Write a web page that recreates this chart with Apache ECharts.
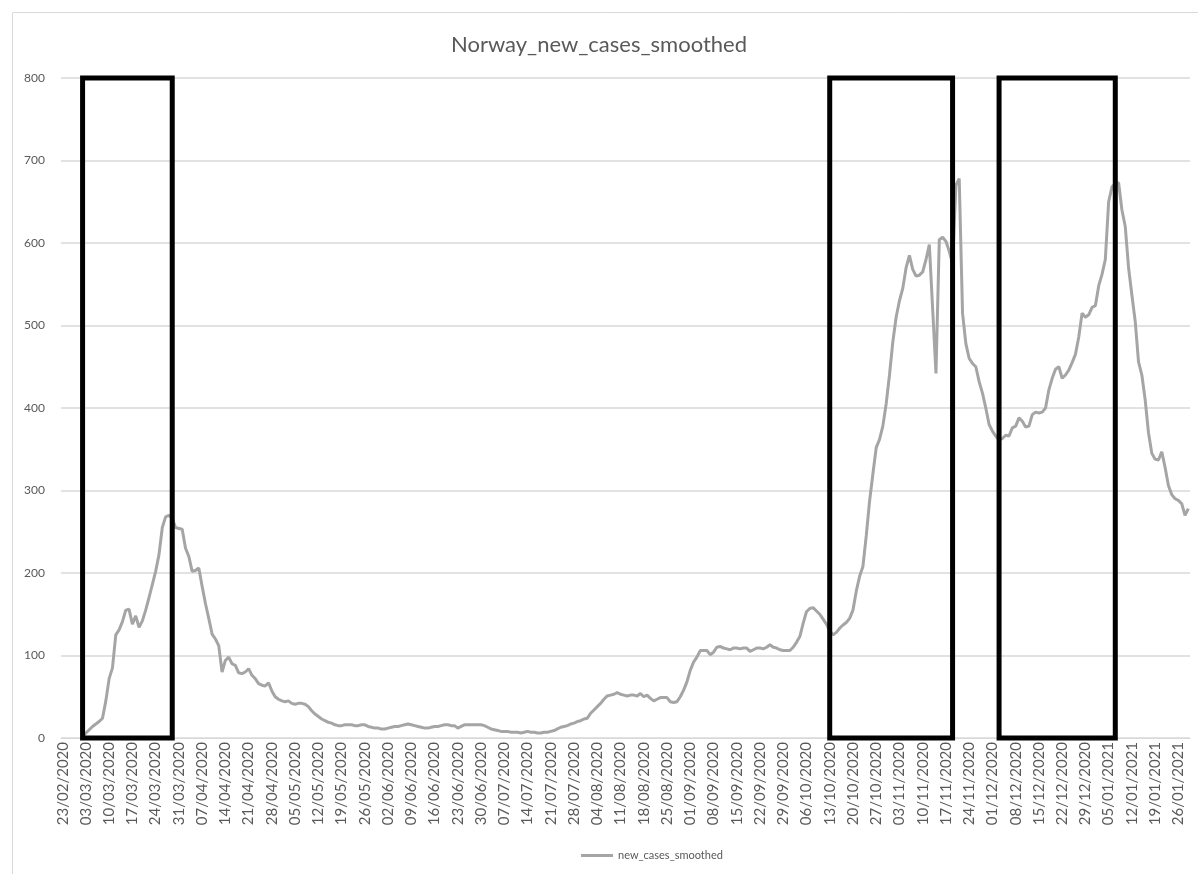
<!DOCTYPE html>
<html>
<head>
<meta charset="utf-8">
<title>Norway_new_cases_smoothed</title>
<script src="https://cdn.jsdelivr.net/npm/echarts@6/dist/echarts.min.js"></script>
<style>
  html, body { margin: 0; padding: 0; background: #ffffff; }
  #chart { width: 1198px; height: 874px; }
</style>
</head>
<body>
<div id="chart"></div>
<script>
// ---- data ----
const chartTitle = 'Norway_new_cases_smoothed';
const seriesName = 'new_cases_smoothed';

// first row of the sheet, then one row per day
const firstCategory = '23/02/2020';
const dailyFrom = '2020-02-26';
const dailyTo = '2021-01-29';

const yTicks = [0, 100, 200, 300, 400, 500, 600, 700, 800];

// 7-day smoothed new cases, one value per category (blank rows are null)
const newCasesSmoothed = [
  null, null, null, null, null, null,
  2, 6, 10, 14, 17, 20, 24,
  45, 72, 85,
  125, 131, 141, 155, 156,
  138, 148, 134, 142, 155,
  170, 186, 202, 222, 255,
  268, 270, 266, 255, 254,
  253, 230, 220, 202, 203,
  206, 184, 163, 145, 126,
  120, 112, 80, 94, 98,
  90, 88, 79, 78, 80,
  84, 76, 72, 66,
  64, 63, 67, 57, 50, 47, 45, 44, 45, 42,
  41, 42, 42, 41, 38, 33, 29, 26, 23, 21,
  19, 18, 16, 15, 15, 16, 16, 16, 15, 15,
  16, 16, 14, 13, 12, 12, 11, 11, 12, 13,
  14, 14, 15, 16, 17, 16, 15, 14, 13, 12,
  12, 13, 14, 14, 15, 16, 16, 15, 15, 12,
  14, 16, 16, 16, 16, 16, 16, 15, 13, 11,
  10, 9, 8, 8, 8, 7, 7, 7, 6, 7,
  8, 7, 7, 6, 6, 7, 7, 8, 9, 11,
  13, 14, 15, 17, 18, 20, 21, 23, 24, 30,
  34, 38,
  42, 47, 51, 52, 53, 55, 53, 52,
  51, 52, 52, 51, 54, 50, 52, 48, 45, 47,
  49, 49, 49, 44, 43, 44, 50, 58, 68, 82,
  92, 98, 106, 106, 106, 101, 104, 110, 111, 109,
  108, 107, 109, 109, 108, 109, 109, 105, 107, 109,
  109, 108, 110, 113, 110, 109, 107, 106, 106, 106,
  110, 116, 123, 139, 153, 157, 158, 154, 150, 144,
  138, 130, 125, 128, 133, 137, 140, 145, 155, 178,
  196, 208, 245, 287, 320, 352, 362, 378, 405, 440,
  480, 510, 530, 545, 570, 585, 568, 560, 561, 565,
  580, 598, 520, 442, 604, 607, 602, 590, 575, 670,
  678, 515, 478, 460, 454, 450, 432, 418, 400, 380,
  372, 366, 361, 363, 367, 366, 376, 378, 388, 384,
  377, 378, 392, 395, 394, 395, 400, 422, 436, 447,
  450, 436, 440, 446, 455, 465, 486, 515, 510, 513,
  522, 524, 548, 562, 580, 650, 668, 672, 673, 640,
  620, 570, 537, 505, 456, 440, 410, 370, 345, 338,
  337, 347, 328, 306, 295, 290, 288, 284, 270, 278
];

// periods outlined with black frames (first and last day of each)
const framedPeriods = [
  ['02/03/2020', '29/03/2020'],
  ['13/10/2020', '19/11/2020'],
  ['03/12/2020', '07/01/2021']
];

// ---- build the category axis: dd/mm/yyyy ----
function fmt(d) {
  const dd = String(d.getUTCDate()).padStart(2, '0');
  const mm = String(d.getUTCMonth() + 1).padStart(2, '0');
  return dd + '/' + mm + '/' + d.getUTCFullYear();
}
const categories = [firstCategory];
for (let d = new Date(dailyFrom + 'T00:00:00Z'); d <= new Date(dailyTo + 'T00:00:00Z'); d.setUTCDate(d.getUTCDate() + 1)) {
  categories.push(fmt(d));
}

const yMax = yTicks[yTicks.length - 1];
const frameData = framedPeriods.map(p => [categories.indexOf(p[0]), categories.indexOf(p[1]), yMax, yTicks[0]]);

const textColor = '#595959';
const gridColor = '#d9d9d9';
const lineColor = '#a5a5a5';
const font = 'Lato, "Open Sans", sans-serif';

const chart = echarts.init(document.getElementById('chart'), null, { renderer: 'canvas' });

chart.setOption({
  animation: false,
  backgroundColor: '#ffffff',
  title: {
    text: chartTitle,
    left: 'center',
    top: 29,
    textStyle: { color: textColor, fontSize: 22, fontWeight: 'normal', fontFamily: font }
  },
  legend: {
    data: [seriesName],
    bottom: 8,
    left: 576,
    icon: 'rect',
    itemWidth: 32,
    itemHeight: 3,
    itemGap: 5,
    textStyle: { color: textColor, fontSize: 11, fontFamily: font }
  },
  grid: {
    left: 61,
    right: 8,
    top: 78,
    bottom: 136,
    outerBoundsMode: 'none'
  },
  xAxis: {
    type: 'category',
    data: categories,
    boundaryGap: true,
    axisLine: { show: true, lineStyle: { color: gridColor, width: 1 } },
    axisTick: { show: false },
    axisLabel: {
      interval: 6,
      rotate: 90,
      margin: 4,
      color: textColor,
      fontSize: 15,
      fontFamily: font
    },
    splitLine: { show: false }
  },
  yAxis: {
    type: 'value',
    min: yTicks[0],
    max: yMax,
    interval: yTicks[1] - yTicks[0],
    axisLine: { show: false },
    axisTick: { show: false },
    axisLabel: { color: textColor, fontSize: 12, margin: 16, fontFamily: font },
    splitLine: { show: true, lineStyle: { color: gridColor, width: 1.5 } }
  },
  series: [
    {
      name: seriesName,
      type: 'line',
      data: newCasesSmoothed,
      showSymbol: false,
      symbol: 'none',
      smooth: false,
      z: 2,
      lineStyle: { color: lineColor, width: 3 },
      itemStyle: { color: lineColor }
    },
    {
      name: 'frames',
      type: 'custom',
      z: 5,
      silent: true,
      data: frameData,
      encode: { x: [0, 1], y: [2, 3] },
      renderItem: function (params, api) {
        const a = api.coord([api.value(0), api.value(2)]);
        const b = api.coord([api.value(1), api.value(3)]);
        return {
          type: 'rect',
          shape: { x: a[0], y: a[1], width: b[0] - a[0], height: b[1] - a[1] },
          style: { fill: 'none', stroke: '#000000', lineWidth: 5 }
        };
      }
    }
  ],
  graphic: [
    {
      type: 'rect',
      left: 10,
      top: 10,
      silent: true,
      shape: { width: 1187, height: 862 },
      style: { fill: 'none', stroke: gridColor, lineWidth: 1 }
    }
  ]
});
</script>
</body>
</html>
